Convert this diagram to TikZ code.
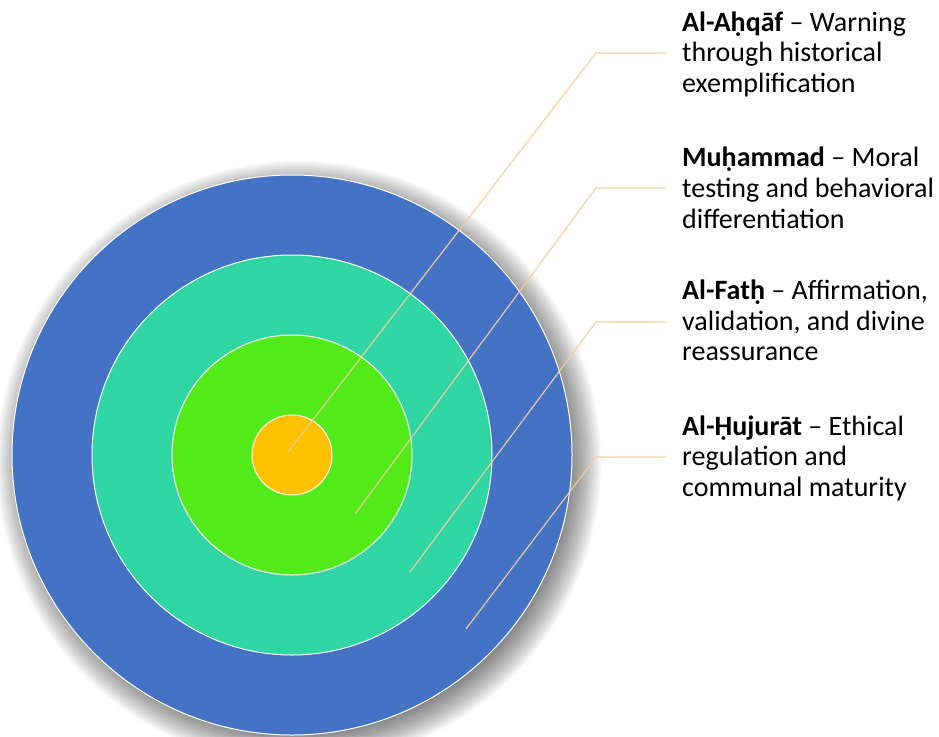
\documentclass[tikz,border=0pt]{standalone}
\usepackage{fontspec}
\setmainfont{Carlito}
\definecolor{ringblue}{HTML}{4472C4}
\definecolor{ringteal}{HTML}{2FD6A3}
\definecolor{ringgreen}{HTML}{52EA18}
\definecolor{ringorange}{HTML}{FFC000}
\definecolor{leader}{HTML}{F5CD9C}
\tikzset{
  ring/.style={draw=white, line width=1pt},
  leaderline/.style={draw=leader, line width=1.1pt},
  shadowlayer/.style={fill=black, fill opacity=0.035},
  label/.style={anchor=base west, inner sep=0pt, text width=300pt, align=flush left,
    font=\fontsize{28}{30.7}\selectfont, text=black}
}
\begin{document}
\begin{tikzpicture}[x=1pt,y=-1pt]
\useasboundingbox (0,0) rectangle (939,736);
\fill[white] (0,0) rectangle (939,736);
% soft shadow
\coordinate (sc) at (299,463);
\foreach \i in {0,...,20} {
  \path[shadowlayer] (sc) circle[radius={262pt+2pt*\i}];
}
% rings
\path[ring, fill=ringblue] (292,455) circle[radius=280pt];
\path[ring, fill=ringteal] (292,455) circle[radius=200pt];
\path[ring, fill=ringgreen] (292,455) circle[radius=120pt];
\path[ring, fill=ringorange] (292,455) circle[radius=40pt];
% labels
\node[label] (t1) at (682,31) {\textbf{Al-Aḥqāf} – Warning\\through historical\\exemplification};
\node[label] (t2) at (682,166.7) {\textbf{Muḥammad} – Moral\\testing and behavioral\\differentiation};
\node[label] (t3) at (682,299.3) {\textbf{Al-Fatḥ} – Affirmation,\\validation, and divine\\reassurance};
\node[label] (t4) at (682,435) {\textbf{Al-Ḥujurāt} – Ethical\\regulation and\\communal maturity};
% leader points
\coordinate (p1) at (288,452); \coordinate (e1) at (596,53);
\coordinate (p2) at (355,514); \coordinate (e2) at (596,188);
\coordinate (p3) at (410,572); \coordinate (e3) at (596,322);
\coordinate (p4) at (466,629); \coordinate (e4) at (596,457);
\draw[leaderline, shorten >=16pt] (p1) -- (e1) -- (e1 -| t1.west);
\draw[leaderline, shorten >=16pt] (p2) -- (e2) -- (e2 -| t2.west);
\draw[leaderline, shorten >=16pt] (p3) -- (e3) -- (e3 -| t3.west);
\draw[leaderline, shorten >=16pt] (p4) -- (e4) -- (e4 -| t4.west);
\end{tikzpicture}
\end{document}
